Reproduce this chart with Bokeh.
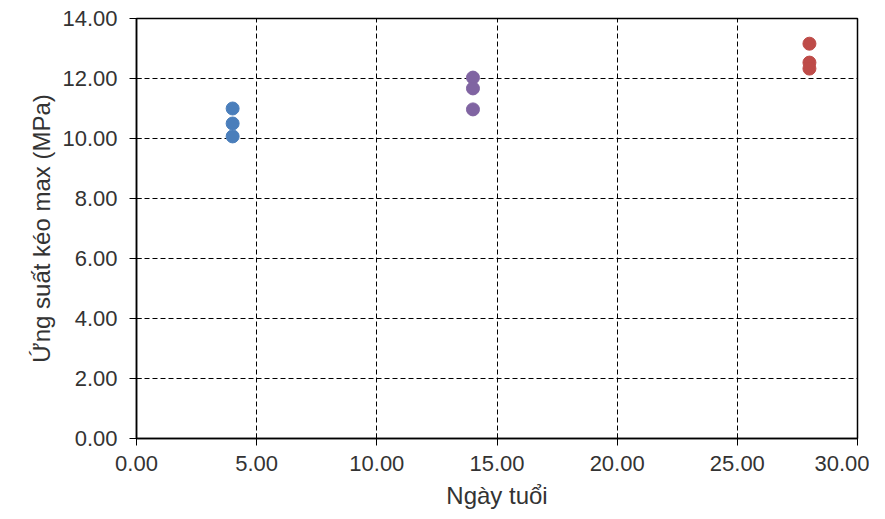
from bokeh.plotting import figure
from bokeh.models import FixedTicker, NumeralTickFormatter, Range1d
from bokeh.embed import file_html
from bokeh.resources import INLINE

# Data
age_4 = [4, 4, 4]
stress_4 = [11.00, 10.50, 10.07]
age_14 = [14, 14, 14]
stress_14 = [12.03, 11.67, 10.97]
age_28 = [28, 28, 28]
stress_28 = [13.16, 12.53, 12.33]

x_ticks = [0, 5, 10, 15, 20, 25, 30]
y_ticks = [0, 2, 4, 6, 8, 10, 12, 14]

FONT = "Liberation Sans"

p = figure(width=869, height=511, output_backend="svg", toolbar_location=None,
           x_range=Range1d(0, 30), y_range=Range1d(0, 14),
           min_border_left=136, min_border_right=12, min_border_top=18, min_border_bottom=73)

p.scatter(age_4, stress_4, size=13, color="#4A7EBB")
p.scatter(age_14, stress_14, size=13, color="#8064A2")
p.scatter(age_28, stress_28, size=13, color="#BE4B48")

for ax in (p.xaxis, p.yaxis):
    ax.axis_line_color = "black"
    ax.axis_line_width = 1.5
    ax.major_tick_line_color = "black"
    ax.major_tick_in = 5
    ax.major_tick_out = 7
    ax.minor_tick_line_color = None
    ax.formatter = NumeralTickFormatter(format="0.00")
    ax.major_label_text_font = FONT
    ax.major_label_text_font_size = "22px"
    ax.major_label_text_color = "#333333"
    ax.axis_label_text_font = FONT
    ax.axis_label_text_font_size = "24px"
    ax.axis_label_text_font_style = "normal"
    ax.axis_label_text_color = "#333333"

p.xaxis.ticker = FixedTicker(ticks=x_ticks)
p.yaxis.ticker = FixedTicker(ticks=y_ticks)
p.xaxis.axis_label = "Ngày tuổi"
p.yaxis.axis_label = "Ứng suất kéo max (MPa)"
p.xaxis.major_label_standoff = 10
p.yaxis.major_label_standoff = 12
p.xaxis.axis_label_standoff = 8
p.yaxis.axis_label_standoff = 4

for g in (p.xgrid, p.ygrid):
    g.grid_line_color = "black"
    g.grid_line_dash = "5 3"
    g.grid_line_width = 1

p.outline_line_color = "black"
p.outline_line_width = 1.5
p.outline_line_alpha = 1

open("out.html", "w").write(file_html(p, INLINE))
